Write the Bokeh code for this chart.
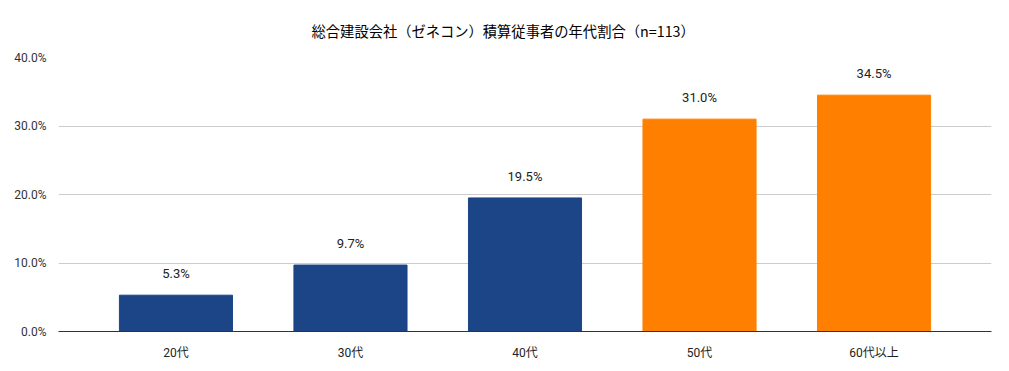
from bokeh.plotting import figure
from bokeh.models import ColumnDataSource, FixedTicker, NumeralTickFormatter, LabelSet, Range1d
from bokeh.core.properties import value
from bokeh.embed import file_html
from bokeh.resources import INLINE

# Age bands of estimators at general contractors (n=113)
categories = ["20代", "30代", "40代", "50代", "60代以上"]
shares = [0.053, 0.097, 0.195, 0.310, 0.345]
share_labels = ["5.3%", "9.7%", "19.5%", "31.0%", "34.5%"]
colors = ["#1c4587", "#1c4587", "#1c4587", "#ff8000", "#ff8000"]
y_ticks = [0.0, 0.1, 0.2, 0.3, 0.4]

positions = list(range(len(categories)))
source = ColumnDataSource(dict(x=positions, top=shares, label=share_labels, color=colors))

LATIN = "Roboto, Noto Sans CJK JP, sans-serif"
CJK = "Noto Sans CJK JP, Roboto, sans-serif"

p = figure(width=1009, height=371, output_backend="svg", toolbar_location=None,
           x_range=Range1d(-0.673, len(categories) - 1 + 0.673),
           y_range=Range1d(0, 0.40),
           min_border_left=58, min_border_right=18, min_border_top=57, min_border_bottom=40,
           title="総合建設会社（ゼネコン）積算従事者の年代割合（n=113）")

p.title.align = "left"
p.title.offset = 253
p.title.text_font = CJK
p.title.text_font_size = "14.3px"
p.title.text_font_style = "normal"
p.title.text_color = "#000000"
p.title.standoff = 33

p.vbar(x="x", top="top", width=0.648, color="color", source=source)

labels = LabelSet(x="x", y="top", text="label", source=source, y_offset=14,
                  text_align="center", text_baseline="bottom",
                  text_font=value(LATIN), text_font_size=value("13px"),
                  text_color=value("#222222"))
p.add_layout(labels)

p.outline_line_color = None
p.xgrid.grid_line_color = None
p.ygrid.ticker = FixedTicker(ticks=y_ticks[1:])
p.ygrid.grid_line_color = "#cccccc"

p.yaxis.ticker = FixedTicker(ticks=y_ticks)
p.yaxis.formatter = NumeralTickFormatter(format="0.0%")
p.yaxis.axis_line_color = None
p.yaxis.major_tick_line_color = None
p.yaxis.minor_tick_line_color = None
p.yaxis.major_label_text_font = LATIN
p.yaxis.major_label_text_font_size = "12px"
p.yaxis.major_label_text_color = "#333333"
p.yaxis.major_label_standoff = 6

p.xaxis.ticker = FixedTicker(ticks=positions)
p.xaxis.major_label_overrides = {i: c for i, c in enumerate(categories)}
p.xaxis.axis_line_color = "#333333"
p.xaxis.major_tick_line_color = None
p.xaxis.minor_tick_line_color = None
p.xaxis.major_label_text_font = LATIN
p.xaxis.major_label_text_font_size = "12px"
p.xaxis.major_label_text_color = "#222222"
p.xaxis.major_label_standoff = 8

open("out.html", "w").write(file_html(p, INLINE))
